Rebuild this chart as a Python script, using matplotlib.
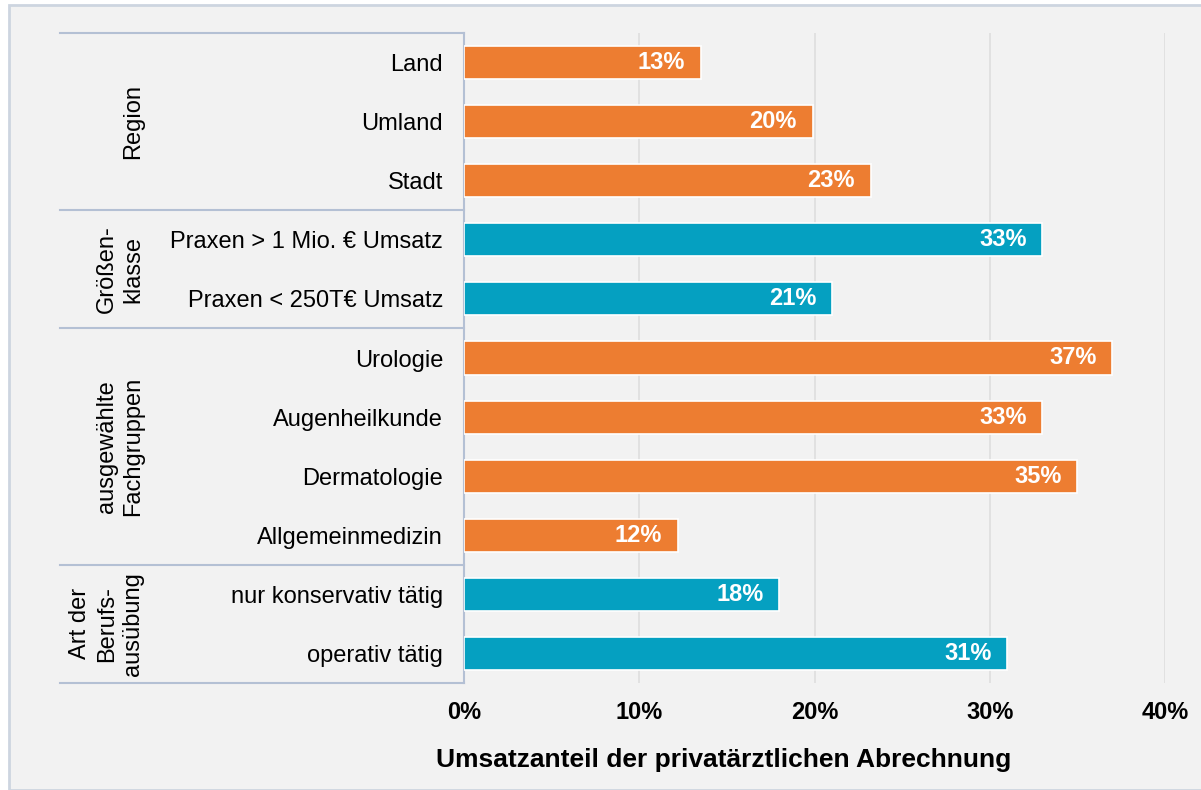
import numpy as np
import matplotlib.pyplot as plt
from matplotlib.patches import Rectangle

plt.rcParams['font.family'] = ['Liberation Sans', 'DejaVu Sans']

categories = ['Land', 'Umland', 'Stadt',
              'Praxen > 1 Mio. € Umsatz', 'Praxen < 250T€ Umsatz',
              'Urologie', 'Augenheilkunde', 'Dermatologie', 'Allgemeinmedizin',
              'nur konservativ tätig', 'operativ tätig']
values = [13.5, 19.9, 23.2, 33.0, 21.0, 37.0, 33.0, 35.0, 12.2, 18.0, 31.0]
labels = ['13%', '20%', '23%', '33%', '21%', '37%', '33%', '35%', '12%', '18%', '31%']
groups = ['Region', 'Größen-\nklasse', 'ausgewählte\nFachgruppen', 'Art der\nBerufs-\nausübung']
group_sizes = [3, 2, 4, 2]
group_colors = ['#ED7D31', '#05A0C1', '#ED7D31', '#05A0C1']

xticks = [0, 10, 20, 30, 40]
xticklabels = ['0%', '10%', '20%', '30%', '40%']

W, H = 1201, 790
fig = plt.figure(figsize=(W / 100, H / 100), dpi=100)
fig.patch.set_facecolor('white')
# chart background with thin border on left/top
fig.patches.append(Rectangle((9 / W, 0), 1.1, 1 - 5 / H, transform=fig.transFigure,
                             facecolor='#F2F2F2', edgecolor='#CDD5E0', lw=2, zorder=-10))

ax = fig.add_axes([464 / W, 1 - 683 / H, (1165 - 464) / W, (683 - 33) / H])
ax.set_facecolor('none')

colors = []
for c, n in zip(group_colors, group_sizes):
    colors += [c] * n

y = np.arange(len(categories))
bars = ax.barh(y, values, height=0.56, color=colors, edgecolor='white', linewidth=1.2, zorder=3)

for b, v, lab in zip(bars, values, labels):
    ax.text(v - 0.9, b.get_y() + b.get_height() / 2, lab, ha='right', va='center',
            color='white', fontsize=17, fontweight='bold', zorder=4)

ax.set_ylim(len(categories) - 0.5, -0.5)
ax.set_xlim(0, 40)
ax.set_yticks(y)
ax.set_yticklabels(categories, fontsize=17)
ax.set_xticks(xticks)
ax.set_xticklabels(xticklabels, fontsize=17, fontweight='bold')
ax.tick_params(axis='y', length=0, pad=15)
ax.tick_params(axis='x', length=0, pad=13)
ax.grid(axis='x', color='#DEDEDE', lw=1.2, zorder=0)
for s in ['top', 'right', 'bottom']:
    ax.spines[s].set_visible(False)
ax.spines['left'].set_color('#B4C0D4')
ax.spines['left'].set_linewidth(1.5)

# group brackets
trans = ax.get_yaxis_transform()
x_left = (60 - 464) / (1165 - 464)
bounds = np.concatenate([[0], np.cumsum(group_sizes)]) - 0.5
for b in bounds:
    ax.plot([x_left, 0], [b, b], transform=trans, color='#B4C0D4', lw=1.5, clip_on=False)

x_grp = (144 - 464) / (1165 - 464)
for g, lo, hi in zip(groups, bounds[:-1], bounds[1:]):
    ax.text(x_grp, (lo + hi) / 2, g, transform=trans, rotation=90, ha='right', va='center',
            multialignment='center', fontsize=17, linespacing=1.25)

fig.text(724 / W, 1 - 760 / H, 'Umsatzanteil der privatärztlichen Abrechnung',
         ha='center', va='center', fontsize=19, fontweight='bold')

plt.savefig('out.png', dpi=100, facecolor=fig.get_facecolor())
